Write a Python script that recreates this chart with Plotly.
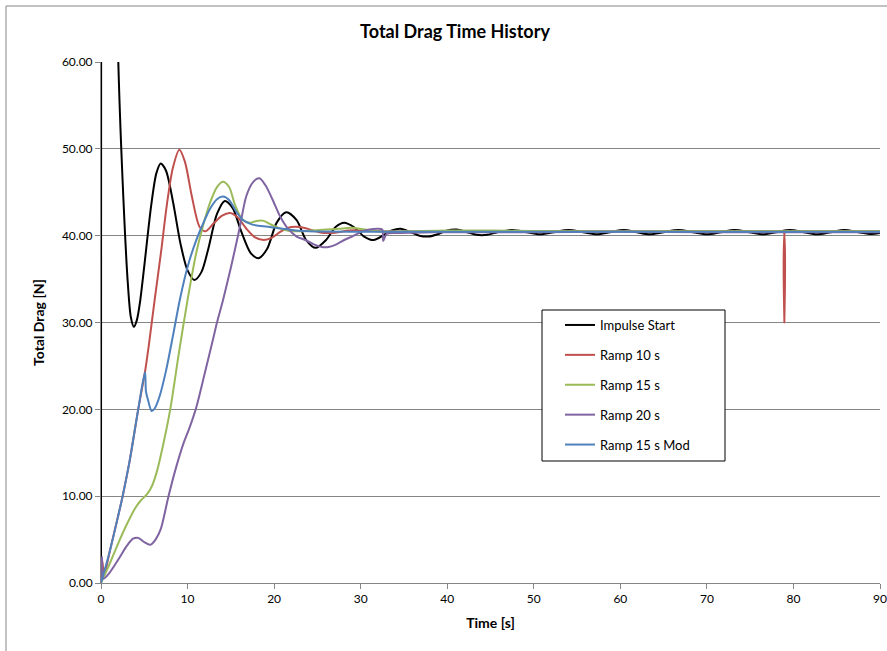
import plotly.graph_objects as go

# ---------------- data ----------------
impulse_t = [0, 0.1, 1.0, 2.0, 2.6, 3.1, 3.45, 3.8, 4.15, 4.5, 5.0, 5.8, 6.4, 6.9, 7.5, 8.3, 9.2, 10.0, 10.8,
             11.6, 12.4, 13.4, 14.3, 15.2, 16.2, 17.3, 18.2, 19.2, 20.3, 21.4, 22.6, 23.7, 24.8,
             26.0, 27.1, 28.1, 29.2, 30.4, 31.5, 32.7, 33.6, 34.6, 35.8, 36.8, 37.8, 39.0, 40.0,
             41.1, 42.3, 43.4, 44.6, 45.8, 47.5, 49.2, 50.7, 52.3, 54.0, 55.7, 57.3, 58.8, 60.4,
             61.9, 63.4, 65.0, 66.7, 68.4, 70.0, 71.6, 73.2, 74.9, 76.5, 78.0, 79.6, 81.2, 82.7,
             84.3, 85.9, 87.5, 89.0, 90.0]
impulse_d = [0, 400, 120, 60, 44, 34.5, 30.6, 29.5, 30.3, 32.3, 36.5, 43.5, 47.2, 48.3, 47.5, 44, 39, 36, 34.9,
             35.8, 38.5, 42.5, 44.0, 43.2, 40.5, 38.0, 37.4, 38.5, 41.5, 42.7, 41.8, 39.5, 38.6,
             39.5, 41.0, 41.5, 41.0, 39.9, 39.5, 40.1, 40.6, 40.8, 40.4, 40.0, 39.9, 40.2, 40.6,
             40.7, 40.4, 40.1, 40.1, 40.4, 40.65, 40.4, 40.15, 40.4, 40.65, 40.4, 40.15, 40.4, 40.65,
             40.4, 40.15, 40.4, 40.65, 40.4, 40.15, 40.4, 40.65, 40.4, 40.15, 40.4, 40.65, 40.4, 40.15,
             40.4, 40.65, 40.4, 40.2, 40.3]

ramp10_t = [0, 0.15, 0.35, 1, 2, 2.5, 3.3, 4.3, 5.08, 5.5, 6.2, 7.0, 7.6, 8.3, 9.05, 9.7, 10.5,
            11.4, 12.1, 13.0, 14.0, 14.9, 15.8, 16.8, 17.8, 18.8, 19.8, 20.8, 22.0, 23.0, 24.2,
            25.2, 26.2, 27.4, 28.6, 30, 32, 40, 50, 60, 70, 78.6, 78.85, 78.95, 79.05, 79.3, 85, 90]
ramp10_d = [0, 2.6, 0.8, 3.6, 7.8, 10, 14, 20, 24.3, 27.2, 32.6, 38.6, 43.5, 47.8, 49.9, 48.5, 44.5,
            41.0, 40.5, 41.4, 42.3, 42.6, 42.1, 40.8, 39.8, 39.5, 39.8, 40.5, 41.0, 41.0, 40.7,
            40.4, 40.3, 40.4, 40.6, 40.6, 40.5, 40.5, 40.5, 40.5, 40.5, 40.5, 40.5, 30.0, 40.5, 40.5, 40.5, 40.5]

ramp15_t = [0, 1, 2, 3, 4, 4.6, 5.3, 5.9, 6.5, 7.2, 8, 9, 10, 11, 11.8, 12.6, 13.4, 14.1, 14.8,
            15.5, 16.3, 17.2, 18, 18.8, 19.6, 20.5, 21.5, 23, 24.5, 26, 27.5, 29, 30.5, 32, 35,
            40, 50, 60, 70, 80, 90]
ramp15_d = [0, 2.2, 4.6, 6.8, 8.7, 9.5, 10.2, 11.2, 13.0, 16.0, 20.0, 26.5, 32.6, 38.0, 41.2, 43.8,
            45.6, 46.2, 45.6, 43.5, 41.9, 41.5, 41.7, 41.7, 41.3, 40.9, 40.6, 40.5, 40.6, 40.7,
            40.8, 40.9, 40.7, 40.5, 40.5, 40.6, 40.55, 40.5, 40.5, 40.5, 40.5]

ramp20_t = [0, 0.1, 0.3, 1, 2, 3, 3.7, 4.3, 5, 5.7, 6.3, 6.9, 7.8, 8.7, 9.5, 10.2, 11, 12, 13,
            13.4, 14.1, 15, 16, 16.8, 17.6, 18.3, 19, 19.8, 20.7, 21.6, 22.6, 23.6, 24.6, 25.5,
            26.3, 27.2, 28.1, 29.0, 30.0, 31.0, 32.0, 32.5, 32.6, 33.0, 34, 36, 40, 50, 60, 70, 80, 90]
ramp20_d = [0, 3.0, 0.5, 1.2, 2.7, 4.3, 5.1, 5.2, 4.7, 4.4, 5.0, 6.2, 10, 13.4, 16, 17.8, 20.2, 24.2,
            28.3, 30, 32.6, 36.3, 40.8, 44.6, 46.2, 46.6, 45.8, 44.2, 42.2, 40.8, 39.9, 39.5, 39.0,
            38.7, 38.7, 39.0, 39.5, 39.9, 40.4, 40.7, 40.8, 40.7, 39.4, 40.2, 40.3, 40.35, 40.4,
            40.4, 40.45, 40.4, 40.4, 40.4]

mod_t = [0, 1, 2, 2.5, 3.3, 4.3, 5.08, 5.2, 5.4, 5.85, 6.2, 6.8, 7.5, 8.3, 9.1, 10, 10.9, 11.8,
         12.6, 13.4, 14.1, 14.8, 15.6, 16.4, 17.4, 18.5, 19.5, 21, 22.5, 24, 30, 40, 50, 60, 70, 80, 90]
mod_d = [0, 3.6, 7.8, 10, 14, 20, 24.3, 22, 21.2, 19.8, 20.1, 21.6, 24.4, 28.4, 32.6, 36.4, 39.2,
         41.4, 43.1, 44.2, 44.5, 44.1, 42.8, 41.8, 41.3, 41.1, 41.0, 40.8, 40.6, 40.5, 40.45,
         40.45, 40.45, 40.45, 40.45, 40.45, 40.45]

y_ticks = [0, 10, 20, 30, 40, 50, 60]
x_ticks = [0, 10, 20, 30, 40, 50, 60, 70, 80, 90]

series = [
    ("Impulse Start", impulse_t, impulse_d, "#000000"),
    ("Ramp 10 s", ramp10_t, ramp10_d, "#C0504D"),
    ("Ramp 15 s", ramp15_t, ramp15_d, "#9BBB59"),
    ("Ramp 20 s", ramp20_t, ramp20_d, "#8064A2"),
    ("Ramp 15 s Mod", mod_t, mod_d, "#4F81BD"),
]

FONT = "Lato, 'Open Sans', sans-serif"

fig = go.Figure()
for i, (name, t, d, col) in enumerate(series):
    fig.add_trace(go.Scatter(
        x=t, y=d, mode="lines", name=name, legendgroup=f"g{i}",
        line=dict(color=col, width=2, shape="spline", smoothing=0.8),
    ))

# plot area geometry (pixels in an 887x651 canvas)
L, R, T, B = 101, 880, 62, 583
W, H = 887, 651


def px2paper_x(px):
    return (px - L) / (R - L)


def px2paper_y(py):
    return (B - py) / (B - T)


fig.update_layout(
    width=W, height=H,
    margin=dict(l=L, r=W - R, t=T, b=H - B, autoexpand=False),
    paper_bgcolor="white", plot_bgcolor="white",
    font=dict(family=FONT, size=12, color="#000000"),
    title=dict(text="<b>Total Drag Time History</b>", x=(455) / W, xanchor="center",
               y=1 - 32 / H, yanchor="middle", font=dict(size=18, family=FONT)),
    xaxis=dict(range=[0, 90], tickvals=x_ticks, ticktext=[str(v) for v in x_ticks],
               showgrid=False, zeroline=False, showline=True, linecolor="#868686", linewidth=1,
               ticks="outside", ticklen=5, tickcolor="#868686", automargin=False,
               tickfont=dict(size=12, family=FONT),
               title=dict(text="<b>Time [s]</b>", font=dict(size=14, family=FONT), standoff=12)),
    yaxis=dict(range=[0, 60], tickvals=y_ticks, ticktext=[f"{v:.2f}" for v in y_ticks],
               showgrid=True, gridcolor="#868686", gridwidth=1, zeroline=False,
               showline=True, linecolor="#868686", linewidth=1, automargin=False,
               ticks="outside", ticklen=5, tickcolor="#868686",
               tickfont=dict(size=12, family=FONT),
               title=dict(text="<b>Total Drag [N]</b>", font=dict(size=14, family=FONT), standoff=14)),
    showlegend=True,
    legend=dict(x=px2paper_x(560), y=px2paper_y(310), xanchor="left", yanchor="top",
                bgcolor="rgba(0,0,0,0)", borderwidth=0, tracegroupgap=10,
                font=dict(size=13, family=FONT)),
    shapes=[
        # legend frame
        dict(type="rect", xref="paper", yref="paper",
             x0=px2paper_x(542), x1=px2paper_x(725), y0=px2paper_y(461), y1=px2paper_y(310),
             line=dict(color="#000000", width=1), fillcolor="white", layer="above"),
        # outer chart border
        dict(type="rect", xref="paper", yref="paper",
             x0=px2paper_x(6), x1=px2paper_x(900), y0=px2paper_y(660), y1=px2paper_y(6),
             line=dict(color="#868686", width=1), fillcolor="rgba(0,0,0,0)", layer="below"),
    ],
)

fig.write_html("out.html")
